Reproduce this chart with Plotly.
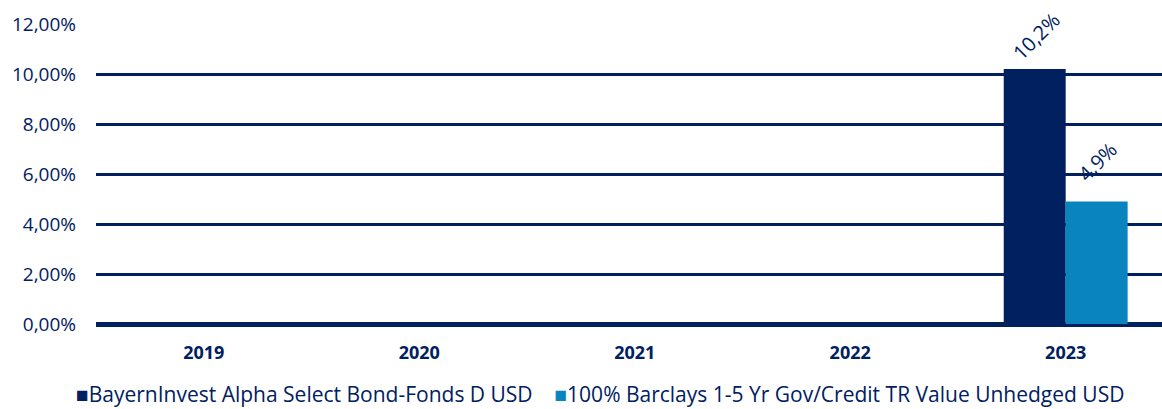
import plotly.graph_objects as go

years = ["2019", "2020", "2021", "2022", "2023"]
fund_name = "BayernInvest Alpha Select Bond-Fonds D USD"
bench_name = "100% Barclays 1-5 Yr Gov/Credit TR Value Unhedged USD"
fund_vals = [None, None, None, None, 10.2]
bench_vals = [None, None, None, None, 4.9]
ytick_vals = [0, 2, 4, 6, 8, 10, 12]
ytick_text = ["0,00%", "2,00%", "4,00%", "6,00%", "8,00%", "10,00%", "12,00%"]

navy = "#002060"
light = "#0A84BE"
font_fam = "Open Sans, sans-serif"

fig = go.Figure()
series = [(fund_name, fund_vals, navy, -31, 33), (bench_name, bench_vals, light, 31, 40)]
for name, vals, col, xs, ys in series:
    fig.add_trace(go.Bar(
        x=years, y=vals, name=name, marker=dict(color=col, line=dict(width=0)),
        cliponaxis=False,
    ))
    for i, v in enumerate(vals):
        if v is None:
            continue
        fig.add_annotation(
            x=i, y=v, xref="x", yref="y", text=f"{v:.1f}%".replace(".", ","),
            showarrow=False, textangle=-45, xanchor="center", yanchor="middle",
            xshift=xs + 1, yshift=ys, font=dict(size=20, color=navy, family=font_fam),
        )

legend_text = (
    f"<span style='color:{navy}'>■</span>{fund_name}"
    f"&nbsp;&nbsp;&nbsp;&nbsp;<span style='color:{light}'>■</span>{bench_name}"
)
fig.add_annotation(
    text=legend_text, xref="paper", yref="paper",
    x=(600 - 96) / 1066, y=-0.235, xanchor="center", yanchor="middle",
    showarrow=False, font=dict(size=21, color=navy, family=font_fam),
)

fig.update_layout(
    width=1162, height=409,
    margin=dict(l=96, r=0, t=24, b=85, autoexpand=False),
    plot_bgcolor="white", paper_bgcolor="white",
    separators=",.",
    barmode="group", bargap=0.425, bargroupgap=0,
    font=dict(family=font_fam, color=navy, size=16),
    showlegend=False,
    xaxis=dict(type="category", range=[-0.5, 4.447], showgrid=False, showline=False,
               automargin=False,
               tickfont=dict(size=18, color=navy, family=font_fam, weight="bold"),
               ticks="", ticklabelstandoff=16),
    yaxis=dict(range=[0, 12], tickvals=ytick_vals, ticktext=ytick_text,
               automargin=False,
               showgrid=True, gridcolor=navy, gridwidth=2.5,
               zeroline=True, zerolinecolor=navy, zerolinewidth=4.5,
               showline=False, ticks="", ticklabelstandoff=19,
               tickfont=dict(size=19, color=navy, family=font_fam)),
)

fig.write_html("out.html", config={"displayModeBar": False},
               post_script="document.body.style.margin='0';document.body.style.overflow='hidden';")
